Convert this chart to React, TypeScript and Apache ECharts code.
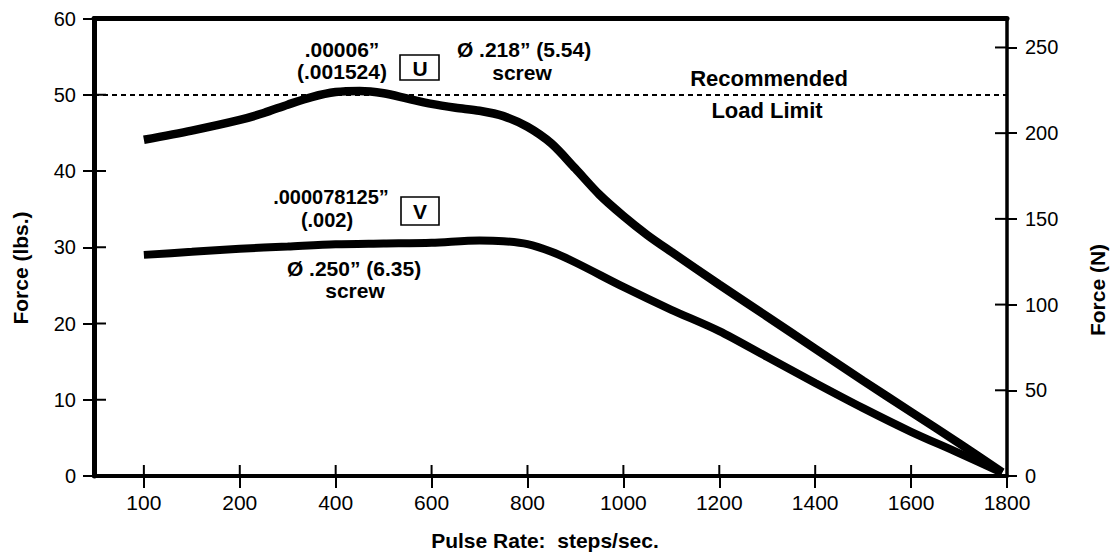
import React, { useEffect, useRef } from "react";
import * as echarts from "echarts";

// Pulse rate tick labels (steps/sec)
const X_TICKS = [100, 200, 400, 600, 800, 1000, 1200, 1400, 1600, 1800];
const Y_LBS_TICKS = [0, 10, 20, 30, 40, 50, 60];
const Y_N_TICKS = [0, 50, 100, 150, 200, 250];
const LBS_TO_N = 4.448222;
const LOAD_LIMIT = 50;

// Curve U: .00006" step, Ø .218" screw
const U_STEPS = [100, 150, 200, 250, 300, 350, 400, 450, 500, 550, 600, 650, 700, 750, 800, 850, 900, 950, 1000, 1050, 1100, 1200, 1300, 1400, 1500, 1600, 1700, 1790];
const U_LBS = [44.1, 45.3, 46.7, 47.6, 48.7, 49.7, 50.35, 50.5, 50.2, 49.5, 48.8, 48.3, 47.9, 47.2, 45.8, 43.6, 40.3, 36.9, 34.1, 31.6, 29.4, 25.1, 20.9, 16.7, 12.5, 8.4, 4.3, 0.5];

// Curve V: .000078125" step, Ø .250" screw
const V_STEPS = [100, 150, 200, 300, 400, 500, 600, 700, 750, 800, 850, 900, 1000, 1100, 1200, 1300, 1400, 1500, 1600, 1700, 1790];
const V_LBS = [29.0, 29.4, 29.8, 30.1, 30.4, 30.5, 30.6, 30.9, 30.8, 30.4, 29.4, 28.0, 24.8, 21.8, 19.0, 15.6, 12.2, 8.9, 5.8, 3.0, 0.4];

// axis position: the 100..200 span is drawn as wide as 200..400
const pos = (v: number) => (v <= 200 ? (v - 100) * 2 : v);
const X_MIN = -104;
const X_MAX = 1800;
const Y_MAX = 60;

const FONT = '"Liberation Sans", Arial, Helvetica, sans-serif';

// plot frame (pixels)
const GRID_L = 94;
const GRID_R = 108;
const GRID_T = 18.5;
const GRID_B = 77;
const CW = 1115;
const CH = 553;

export default function App() {
  const ref = useRef<HTMLDivElement>(null);
  useEffect(() => {
    if (!ref.current) return;
    const chart = echarts.init(ref.current, null, { renderer: "svg" });
    const tickPos = X_TICKS.map(pos);
    const txt = (text: string, x: number, y: number, size = 21, rotation = 0) => ({
      type: "text",
      x,
      y,
      rotation,
      style: {
        text,
        x: 0,
        y: 0,
        font: `bold ${size}px ${FONT}`,
        fill: "#000",
        align: "center",
        verticalAlign: "middle",
        textAlign: "center",
        textVerticalAlign: "middle",
      },
    });
    const box = (x: number, y: number, w: number, h: number) => ({
      type: "rect",
      shape: { x, y, width: w, height: h },
      style: { fill: "#fff", stroke: "#000", lineWidth: 1.6 },
    });

    // inner halves of the crossing axis ticks (axis decoration)
    const pw = CW - GRID_L - GRID_R;
    const ph = CH - GRID_T - GRID_B;
    const xPx = (u: number) => GRID_L + ((u - X_MIN) / (X_MAX - X_MIN)) * pw;
    const yPx = (lbs: number) => GRID_T + (1 - lbs / Y_MAX) * ph;
    const mark = (x: number, y: number, w: number, h: number) => ({
      type: "rect",
      z: 100,
      shape: { x, y, width: w, height: h },
      style: { fill: "#000" },
    });
    const ticks: any[] = [
      ...tickPos.map((p) => mark(xPx(p) - 1, CH - GRID_B - 11, 2, 11)),
      ...Y_LBS_TICKS.slice(1, -1).map((v) => mark(GRID_L, yPx(v) - 1, 12, 2)),
      ...Y_N_TICKS.slice(1).map((v) => mark(CW - GRID_R - 12, yPx(v / LBS_TO_N) - 1, 12, 2)),
    ];

    const graphics: any[] = [
      txt("Force (lbs.)", 20, 268, 21, Math.PI / 2),
      txt("Force (N)", 1097, 290, 21, Math.PI / 2),
      txt("Pulse Rate:  steps/sec.", 545, 540, 21),
      txt(".00006\u201D", 342, 49),
      txt("(.001524)", 342, 71),
      box(400, 55, 39, 25),
      txt("U", 420, 68),
      txt("\u00D8 .218\u201D (5.54)", 524, 49),
      txt("screw", 522, 72),
      txt("Recommended", 769, 78, 22),
      txt("Load Limit", 767, 110, 22),
      txt(".000078125\u201D", 331, 197, 20),
      txt("(.002)", 327, 220, 20),
      box(401, 197, 38, 28),
      txt("V", 420, 211),
      txt("\u00D8 .250\u201D (6.35)", 354, 268),
      txt("screw", 355, 290),
      ...ticks,
    ];

    const option: any = {
      animation: false,
      backgroundColor: "#fff",
      grid: { left: GRID_L, right: GRID_R, top: GRID_T, bottom: GRID_B, containLabel: false },
      xAxis: [
        {
          type: "value",
          position: "bottom",
          min: X_MIN,
          max: X_MAX,
          splitLine: { show: false },
          axisLine: { show: true, onZero: false, lineStyle: { color: "#000", width: 4 } },
          axisTick: { show: true, inside: false, length: 12, customValues: tickPos, lineStyle: { color: "#000", width: 2 } },
          axisLabel: {
            show: true,
            customValues: tickPos,
            margin: 16,
            fontSize: 21,
            fontFamily: FONT,
            color: "#000",
            formatter: (v: number) => {
              const i = tickPos.indexOf(v);
              return i >= 0 ? String(X_TICKS[i]) : "";
            },
          },
        },
        {
          type: "value",
          position: "top",
          min: X_MIN,
          max: X_MAX,
          splitLine: { show: false },
          axisLine: { show: true, onZero: false, lineStyle: { color: "#000", width: 5 } },
          axisTick: { show: false },
          axisLabel: { show: false },
        },
      ],
      yAxis: [
        {
          type: "value",
          position: "left",
          min: 0,
          max: Y_MAX,
          interval: 10,
          splitLine: { show: false },
          axisLine: { show: true, onZero: false, lineStyle: { color: "#000", width: 5 } },
          axisTick: { show: true, inside: false, length: 11, lineStyle: { color: "#000", width: 2 } },
          axisLabel: { margin: 18, fontSize: 20, fontFamily: FONT, color: "#000" },
        },
        {
          type: "value",
          position: "right",
          min: 0,
          max: Y_MAX * LBS_TO_N,
          splitLine: { show: false },
          axisLine: { show: true, onZero: false, lineStyle: { color: "#000", width: 3.5 } },
          axisTick: { show: true, inside: false, length: 10, customValues: Y_N_TICKS, lineStyle: { color: "#000", width: 2 } },
          axisLabel: { customValues: Y_N_TICKS, margin: 18, fontSize: 20, fontFamily: FONT, color: "#000" },
        },
      ],
      series: [
        {
          type: "line",
          name: "U",
          xAxisIndex: 0,
          yAxisIndex: 0,
          data: U_STEPS.map((s, i) => [pos(s), U_LBS[i]]),
          smooth: 0.3,
          showSymbol: false,
          lineStyle: { color: "#000", width: 8.5 },
          markLine: {
            silent: true,
            symbol: "none",
            label: { show: false },
            lineStyle: { color: "#000", width: 2, type: [5, 4] },
            data: [{ yAxis: LOAD_LIMIT }],
          },
          z: 3,
        },
        {
          type: "line",
          name: "V",
          xAxisIndex: 0,
          yAxisIndex: 0,
          data: V_STEPS.map((s, i) => [pos(s), V_LBS[i]]),
          smooth: 0.3,
          showSymbol: false,
          lineStyle: { color: "#000", width: 8 },
          z: 3,
        },
      ],
      graphic: graphics,
    };
    chart.setOption(option);
    return () => chart.dispose();
  }, []);
  return (
    <div
      ref={ref}
      style={{ position: "fixed", left: 0, top: 0, width: CW, height: CH, background: "#fff" }}
    />
  );
}
